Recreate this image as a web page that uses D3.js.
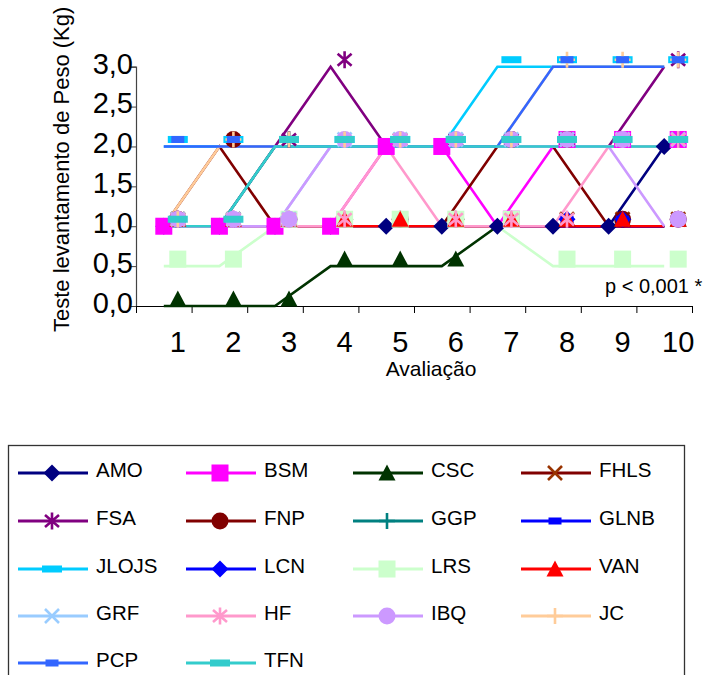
<!DOCTYPE html>
<html>
<head>
<meta charset="utf-8">
<script src="https://cdn.jsdelivr.net/npm/d3@7"></script>
<style>
  html, body { margin: 0; padding: 0; background: #fff; }
  svg { display: block; font-family: Arial, "Liberation Sans", sans-serif; }
</style>
</head>
<body>
<svg id="chart" width="710" height="675"></svg>
<script>
// Avaliações (categorias) e escala do eixo Y
const avaliacoes = ["1", "2", "3", "4", "5", "6", "7", "8", "9", "10"];
const yTicks = [0, 0.5, 1, 1.5, 2, 2.5, 3];

// Teste de levantamento de peso (kg) por participante
const AMO   = [1, 1, 1, 1, 1, 1, 1, 1, 1, 2];
const BSM   = [1, 1, 1, 1, 2, 2, 1, 2, 2, 2];
const CSC   = [0, 0, 0, 0.5, 0.5, 0.5, 1, 1, 1, 1];
const FHLS  = [1, 1, 1, 1, 1, 1, 1, 1, 1, 1];
const FSA   = [1, 1, 2, 3, 2, 2, 2, 2, 2, 3];
const FNP   = [1, 2, 1, 1, 1, 1, 2, 2, 1, 1];
const GGP   = [1, 1, 2, 2, 2, 2, 2, 2, 2, 2];
const GLNB  = [1, 1, 1, 1, 1, 1, 1, 1, 1, 1];
const JLOJS = [2, 2, 2, 2, 2, 2, 3, 3, 3, 3];
const LCN   = [1, 1, 1, 1, 1, 1, 1, 1, 1, 1];
const LRS   = [0.5, 0.5, 1, 1, 1, 1, 1, 0.5, 0.5, 0.5];
const VAN   = [1, 1, 1, 1, 1, 1, 1, 1, 1, 1];
const GRF   = [1, 1, 1, 2, 2, 2, 2, 2, 2, 2];
const HF    = [1, 1, 1, 1, 2, 1, 1, 1, 2, 2];
const IBQ   = [1, 1, 1, 2, 2, 2, 2, 2, 2, 1];
const JC    = [1, 2, 2, 2, 2, 2, 2, 3, 3, 3];
const PCP   = [2, 2, 2, 2, 2, 2, 2, 3, 3, 3];
const TFN   = [1, 1, 2, 2, 2, 2, 2, 2, 2, 2];

const pValor = "p < 0,001 *";

// Estilo de cada série: cor da linha, cor e forma do marcador
const series = [
  { name: "AMO",   values: AMO,   line: "#000080", fill: "#000080", shape: "diamond" },
  { name: "BSM",   values: BSM,   line: "#FF00FF", fill: "#FF00FF", shape: "square" },
  { name: "CSC",   values: CSC,   line: "#003300", fill: "#003300", shape: "triangle" },
  { name: "FHLS",  values: FHLS,  line: "#800000", fill: "#993300", shape: "x" },
  { name: "FSA",   values: FSA,   line: "#800080", fill: "#800080", shape: "star" },
  { name: "FNP",   values: FNP,   line: "#800000", fill: "#800000", shape: "circle" },
  { name: "GGP",   values: GGP,   line: "#008080", fill: "#008080", shape: "plus" },
  { name: "GLNB",  values: GLNB,  line: "#0000FF", fill: "#0000FF", shape: "dash" },
  { name: "JLOJS", values: JLOJS, line: "#00CCFF", fill: "#00CCFF", shape: "bar" },
  { name: "LCN",   values: LCN,   line: "#0000FF", fill: "#0000FF", shape: "diamond" },
  { name: "LRS",   values: LRS,   line: "#CCFFCC", fill: "#CCFFCC", shape: "square" },
  { name: "VAN",   values: VAN,   line: "#FF0000", fill: "#FF0000", shape: "triangle" },
  { name: "GRF",   values: GRF,   line: "#99CCFF", fill: "#99CCFF", shape: "x" },
  { name: "HF",    values: HF,    line: "#FF99CC", fill: "#FF99CC", shape: "star" },
  { name: "IBQ",   values: IBQ,   line: "#CC99FF", fill: "#CC99FF", shape: "circle" },
  { name: "JC",    values: JC,    line: "#FFCC99", fill: "#FFCC99", shape: "plus" },
  { name: "PCP",   values: PCP,   line: "#3366FF", fill: "#3366FF", shape: "dash" },
  { name: "TFN",   values: TFN,   line: "#33CCCC", fill: "#33CCCC", shape: "bar" }
];

// Marcadores que ficam sobre o vértice da linha; os demais são deslocados
const anchoredMarkers = { AMO: [0, 1, 2, 3, 4, 5, 6, 7, 8, 9], BSM: [0, 1, 2, 3, 4, 5] };
const markerShift = { dx: 14, dy: -7 };

// Desenha a forma de um marcador centrado em (0,0)
function drawMarker(g, shape, color) {
  const s = 8.5;
  switch (shape) {
    case "square":
      g.append("rect").attr("x", -s).attr("y", -s).attr("width", 2 * s).attr("height", 2 * s).attr("fill", color);
      break;
    case "diamond":
      g.append("path").attr("d", `M0,${-s}L${s},0L0,${s}L${-s},0Z`).attr("fill", color);
      break;
    case "triangle":
      g.append("path").attr("d", `M0,${-s}L${s},${s - 1}L${-s},${s - 1}Z`).attr("fill", color);
      break;
    case "circle":
      g.append("circle").attr("r", s).attr("fill", color);
      break;
    case "x":
      g.append("path").attr("d", `M${-7},${-7}L7,7M${-7},7L7,${-7}`)
        .attr("stroke", color).attr("stroke-width", 2.6).attr("fill", "none");
      break;
    case "star":
      g.append("path").attr("d", `M${-7},${-6}L7,6M${-7},6L7,${-6}M0,${-8.5}L0,8.5`)
        .attr("stroke", color).attr("stroke-width", 2.6).attr("fill", "none");
      break;
    case "plus":
      g.append("path").attr("d", `M${-8},0L8,0M0,${-8}L0,8`)
        .attr("stroke", color).attr("stroke-width", 2.6).attr("fill", "none");
      break;
    case "bar":
      g.append("rect").attr("x", -10).attr("y", -3.5).attr("width", 20).attr("height", 7).attr("fill", color);
      break;
    case "dash":
      g.append("rect").attr("x", -6.5).attr("y", -3.5).attr("width", 13).attr("height", 7).attr("fill", color);
      break;
  }
}

const svg = d3.select("#chart");

// Área do gráfico
const plot = { left: 136, right: 692, top: 66.7, bottom: 306 };

const x = d3.scaleBand().domain(avaliacoes).range([plot.left, plot.right]).padding(0);
const cx = d => x(d) + x.bandwidth() / 2;
const y = d3.scaleLinear().domain([0, 3]).range([plot.bottom, plot.top]);

// Eixo Y
const yAxis = d3.axisLeft(y)
  .tickValues(yTicks)
  .tickFormat(d => d3.format(".1f")(d).replace(".", ","))
  .tickSize(5)
  .tickPadding(-2);

const gy = svg.append("g").attr("transform", `translate(${plot.left},0)`).call(yAxis);
gy.select(".domain").attr("stroke", "#444").attr("stroke-width", 1.2);
gy.selectAll(".tick line").attr("stroke", "#444");
gy.selectAll(".tick text")
  .attr("font-size", 29)
  .attr("fill", "#000")
  .attr("dy", "0.22em")
  .attr("font-family", "Arial, 'Liberation Sans', sans-serif");

// Eixo X: marcas entre as categorias
const xEdges = d3.scaleLinear().domain([0, avaliacoes.length]).range([plot.left, plot.right]);
const gx = svg.append("g").attr("transform", `translate(0,${plot.bottom})`)
  .call(d3.axisBottom(xEdges).tickValues(d3.range(0, avaliacoes.length + 1)).tickFormat("").tickSize(7).tickSizeOuter(0));
gx.select(".domain").attr("stroke", "#000").attr("stroke-width", 1.2);
gx.selectAll(".tick line").attr("stroke", "#000");

// Rótulos das avaliações
svg.append("g").selectAll("text")
  .data(avaliacoes)
  .join("text")
  .attr("x", d => cx(d) + markerShift.dx)
  .attr("y", 352)
  .attr("text-anchor", "middle")
  .attr("font-size", 29)
  .text(d => d);

// Títulos dos eixos
svg.append("text")
  .attr("x", 431).attr("y", 376)
  .attr("text-anchor", "middle")
  .attr("font-size", 21)
  .text("Avaliação");

svg.append("text")
  .attr("transform", "translate(69,332) rotate(-90)")
  .attr("text-anchor", "start")
  .attr("font-size", 22)
  .text("Teste levantamento de Peso (Kg)");

// Linhas de cada série
const line = d3.line().x((v, i) => cx(avaliacoes[i])).y(v => y(v));
svg.append("g").selectAll("path")
  .data(series)
  .join("path")
  .attr("d", s => line(s.values))
  .attr("fill", "none")
  .attr("stroke", s => s.line)
  .attr("stroke-width", 2.6)
  .attr("stroke-linejoin", "miter");

// Marcadores de cada série
const gm = svg.append("g");
series.forEach(s => {
  const anchored = anchoredMarkers[s.name] || [];
  s.values.forEach((v, i) => {
    const shifted = !anchored.includes(i);
    const px = cx(avaliacoes[i]) + (shifted ? markerShift.dx : 0);
    const py = y(v) + (shifted ? markerShift.dy : 0);
    const g = gm.append("g").attr("transform", `translate(${px},${py})`);
    drawMarker(g, s.shape, s.fill);
  });
});

// Nível de significância
svg.append("text")
  .attr("x", 605).attr("y", 293)
  .attr("font-size", 20)
  .text(pValor);

// Legenda
const legend = svg.append("g");
legend.append("rect")
  .attr("x", 8.5).attr("y", 445.5)
  .attr("width", 676).attr("height", 250)
  .attr("fill", "none")
  .attr("stroke", "#333")
  .attr("stroke-width", 1.3);

const colX = [18, 186, 353, 521];
const rowY = [473, 521, 569, 616, 663];
series.forEach((s, i) => {
  const lx = colX[i % 4];
  const ly = rowY[Math.floor(i / 4)];
  const item = legend.append("g");
  item.append("line")
    .attr("x1", lx).attr("x2", lx + 70)
    .attr("y1", ly).attr("y2", ly)
    .attr("stroke", s.line).attr("stroke-width", 3);
  drawMarker(item.append("g").attr("transform", `translate(${lx + 34},${ly})`), s.shape, s.fill);
  item.append("text")
    .attr("x", lx + 78).attr("y", ly + 4)
    .attr("font-size", 20.5)
    .text(s.name);
});
</script>
</body>
</html>
